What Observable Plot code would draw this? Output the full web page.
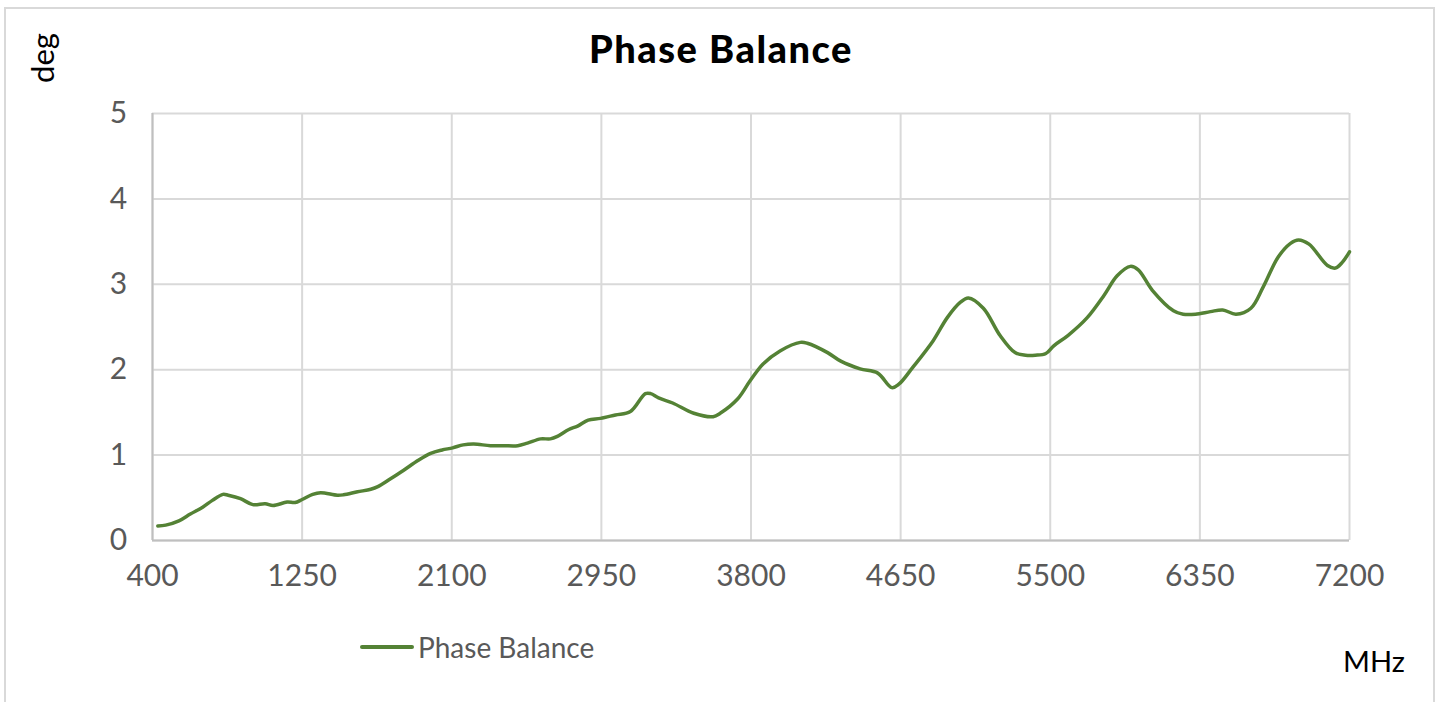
<!DOCTYPE html>
<html>
<head>
<meta charset="utf-8">
<script src="https://cdn.jsdelivr.net/npm/d3@7"></script>
<script src="https://cdn.jsdelivr.net/npm/@observablehq/plot@0.6"></script>
<style>
  html, body { margin: 0; padding: 0; background: #fff; }
  #wrap { position: relative; width: 1442px; height: 702px; overflow: hidden; font-family: Lato, "Noto Sans", sans-serif; }
  #frame { position: absolute; left: 4px; top: 7px; width: 1431px; height: 720px; border: 2px solid #d9d9d9; box-sizing: border-box; }
  #title { position: absolute; left: 0; width: 1442px; top: 25px; text-align: center; font-size: 38px; font-weight: 900; letter-spacing: 1.5px; color: #000; }
  #ylab { position: absolute; left: 42px; top: 58px; transform: translate(-50%, -50%) rotate(-90deg); font-size: 31px; color: #000; }
  #xlab { position: absolute; left: 1343px; top: 643px; font-size: 29px; color: #000; }
  #legend { position: absolute; left: 360px; top: 630px; display: flex; align-items: center; font-size: 28px; color: #595959; }
  #legend .sw { width: 54px; height: 3.5px; background: #548235; border-radius: 2px; margin-right: 4px; }
  #chart { position: absolute; left: 0; top: 0; }
</style>
</head>
<body>
<div id="wrap">
  <div id="frame"></div>
  <div id="chart"></div>
  <div id="title">Phase Balance</div>
  <div id="ylab">deg</div>
  <div id="xlab">MHz</div>
  <div id="legend"><span class="sw"></span><span>Phase Balance</span></div>
</div>
<script>
const xTicks = [400, 1250, 2100, 2950, 3800, 4650, 5500, 6350, 7200];
const yTicks = [0, 1, 2, 3, 4, 5];
const freq = [430, 475, 550, 615, 685, 740, 800, 830, 900, 970, 1040, 1085, 1165, 1210, 1250, 1310, 1355, 1450, 1485, 1565, 1640, 1680, 1750, 1825, 1910, 1980, 2045, 2105, 2165, 2225, 2320, 2395, 2475, 2530, 2605, 2660, 2700, 2765, 2815, 2875, 2945, 3030, 3115, 3200, 3230, 3275, 3355, 3475, 3585, 3625, 3725, 3795, 3870, 3965, 4080, 4120, 4235, 4310, 4420, 4520, 4600, 4640, 4720, 4835, 4915, 4990, 5035, 5120, 5215, 5300, 5360, 5415, 5475, 5520, 5600, 5710, 5805, 5880, 5955, 6000, 6080, 6200, 6255, 6325, 6410, 6480, 6555, 6640, 6710, 6795, 6865, 6910, 6970, 7075, 7120, 7160, 7200];
const phase = [0.17, 0.18, 0.23, 0.31, 0.39, 0.47, 0.54, 0.53, 0.49, 0.42, 0.43, 0.41, 0.45, 0.445, 0.48, 0.54, 0.56, 0.53, 0.535, 0.57, 0.60, 0.63, 0.72, 0.82, 0.94, 1.02, 1.06, 1.085, 1.12, 1.13, 1.11, 1.11, 1.11, 1.14, 1.19, 1.19, 1.22, 1.30, 1.34, 1.41, 1.43, 1.47, 1.51, 1.72, 1.72, 1.67, 1.61, 1.49, 1.45, 1.49, 1.66, 1.87, 2.07, 2.22, 2.32, 2.31, 2.20, 2.10, 2.01, 1.96, 1.79, 1.83, 2.03, 2.34, 2.61, 2.79, 2.84, 2.72, 2.40, 2.20, 2.17, 2.17, 2.19, 2.28, 2.40, 2.61, 2.87, 3.10, 3.21, 3.17, 2.93, 2.69, 2.65, 2.65, 2.68, 2.70, 2.65, 2.72, 2.97, 3.32, 3.48, 3.52, 3.47, 3.22, 3.19, 3.26, 3.38];

const data = freq.map((f, i) => ({ f, v: phase[i] }));

const chart = Plot.plot({
  width: 1442,
  height: 702,
  marginLeft: 152,
  marginRight: 93,
  marginTop: 113,
  marginBottom: 162,
  style: { fontFamily: "Lato, 'Noto Sans', sans-serif", background: "transparent", overflow: "visible" },
  x: { domain: [400, 7200] },
  y: { domain: [0, 5] },
  marks: [
    Plot.gridX(xTicks, { stroke: "#d9d9d9", strokeOpacity: 1, strokeWidth: 2 }),
    Plot.gridY(yTicks, { stroke: "#d9d9d9", strokeOpacity: 1, strokeWidth: 2 }),
    Plot.ruleY([0], { stroke: "#bfbfbf", strokeWidth: 2 }),
    Plot.ruleX([400], { stroke: "#bfbfbf", strokeWidth: 2 }),
    Plot.axisX(xTicks, { tickSize: 0, tickPadding: 24, fontSize: 30, fill: "#595959", label: null, tickFormat: d => String(d) }),
    Plot.axisY(yTicks, { tickSize: 0, tickPadding: 34, fontSize: 30, fill: "#595959", label: null, textAnchor: "middle", tickFormat: d => String(d) }),
    Plot.line(data, { x: "f", y: "v", stroke: "#548235", strokeWidth: 3.5, curve: "catmull-rom" })
  ]
});
document.getElementById("chart").appendChild(chart);
</script>
</body>
</html>
